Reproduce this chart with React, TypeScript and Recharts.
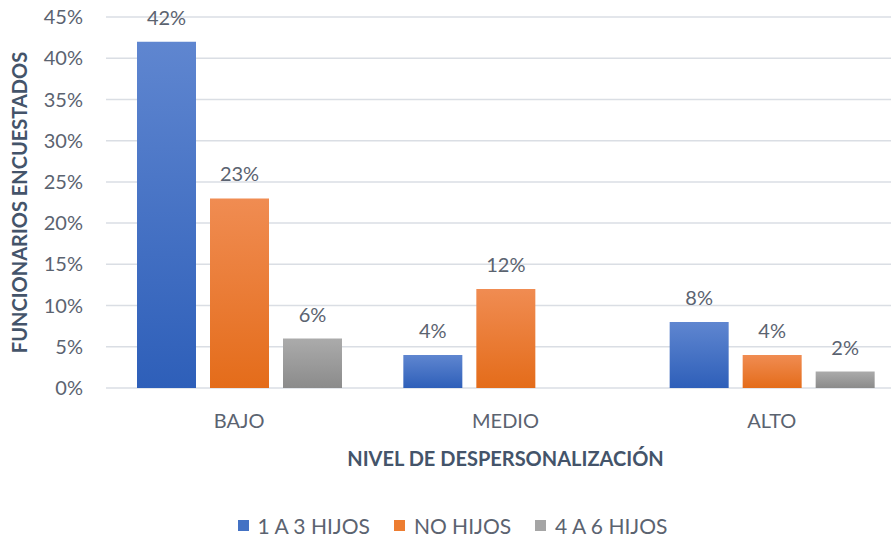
import { BarChart, Bar, XAxis, YAxis, CartesianGrid, Legend, LabelList, Label } from 'recharts'

const categories = ['BAJO', 'MEDIO', 'ALTO']
const unoATres = [42, 4, 8]
const noHijos = [23, 12, 4]
const cuatroASeis = [6, 0, 2]
const yTicks = [0, 5, 10, 15, 20, 25, 30, 35, 40, 45]

const SERIES = [
  { key: 'unoATres', name: '1 A 3 HIJOS', grad: 'gBlue', swatch: '#4472c4' },
  { key: 'noHijos', name: 'NO HIJOS', grad: 'gOrange', swatch: '#ed7d31' },
  { key: 'cuatroASeis', name: '4 A 6 HIJOS', grad: 'gGray', swatch: '#a5a5a5' },
]

const data = categories.map((c, i) => ({
  cat: c,
  unoATres: unoATres[i],
  noHijos: noHijos[i],
  cuatroASeis: cuatroASeis[i],
}))

const FONT = 'Lato, "Liberation Sans", sans-serif'
const TICK = '#5b6370'
const TITLE = '#44546a'

function LegendBox() {
  return (
    <div style={{ display: 'flex', justifyContent: 'center', fontFamily: FONT, fontSize: 21, color: TICK, paddingTop: 4 }}>
      {SERIES.map(s => (
        <div key={s.key} style={{ display: 'flex', alignItems: 'center', margin: '0 12px' }}>
          <span style={{ width: 11, height: 11, background: s.swatch, display: 'inline-block', marginRight: 9 }} />
          <span>{s.name}</span>
        </div>
      ))}
    </div>
  )
}

export default function App() {
  return (
    <div style={{ position: 'absolute', left: 0, top: 0, width: 891, height: 539, overflow: 'hidden', background: '#fff' }}>
      <BarChart
        width={905}
        height={539}
        data={data}
        margin={{ top: 17, right: 0, bottom: 0, left: 0 }}
        barSize={59}
        barGap={14}
      >
        <defs>
          <linearGradient id="gBlue" x1="0" y1="0" x2="0" y2="1">
            <stop offset="0%" stopColor="#5f86d0" />
            <stop offset="100%" stopColor="#2e5fb9" />
          </linearGradient>
          <linearGradient id="gOrange" x1="0" y1="0" x2="0" y2="1">
            <stop offset="0%" stopColor="#f08c52" />
            <stop offset="100%" stopColor="#e46c1a" />
          </linearGradient>
          <linearGradient id="gGray" x1="0" y1="0" x2="0" y2="1">
            <stop offset="0%" stopColor="#ababab" />
            <stop offset="100%" stopColor="#8b8b8b" />
          </linearGradient>
        </defs>
        <CartesianGrid vertical={false} stroke="#dadee4" strokeWidth={1.5} />
        <XAxis
          dataKey="cat"
          height={121}
          axisLine={false}
          tickLine={false}
          tickSize={0}
          tickMargin={26}
          tick={{ fontSize: 20, fill: TICK, fontFamily: FONT }}
        >
          <Label
            value="NIVEL DE DESPERSONALIZACIÓN"
            position="insideTop"
            offset={64}
            style={{ fontSize: 20, fontWeight: 700, fill: TITLE, fontFamily: FONT }}
          />
        </XAxis>
        <YAxis
          width={106}
          domain={[0, 45]}
          ticks={yTicks}
          interval={0}
          axisLine={false}
          tickLine={false}
          tickSize={0}
          tickMargin={23}
          tickFormatter={(v: number) => `${v}%`}
          tick={{ fontSize: 20, fill: TICK, fontFamily: FONT }}
        >
          <Label
            value="FUNCIONARIOS ENCUESTADOS"
            angle={-90}
            position="insideLeft"
            offset={20}
            style={{ fontSize: 20, fontWeight: 700, fill: TITLE, fontFamily: FONT, textAnchor: 'middle' }}
          />
        </YAxis>
        <Legend verticalAlign="bottom" content={<LegendBox />} wrapperStyle={{ height: 30 }} />
        {SERIES.map(s => (
          <Bar key={s.key} dataKey={s.key} name={s.name} fill={`url(#${s.grad})`} isAnimationActive={false}>
            <LabelList
              dataKey={s.key}
              position="top"
              offset={17}
              formatter={(v: number) => (v ? `${v}%` : '')}
              style={{ fontSize: 20, fill: TICK, fontFamily: FONT }}
            />
          </Bar>
        ))}
      </BarChart>
    </div>
  )
}
